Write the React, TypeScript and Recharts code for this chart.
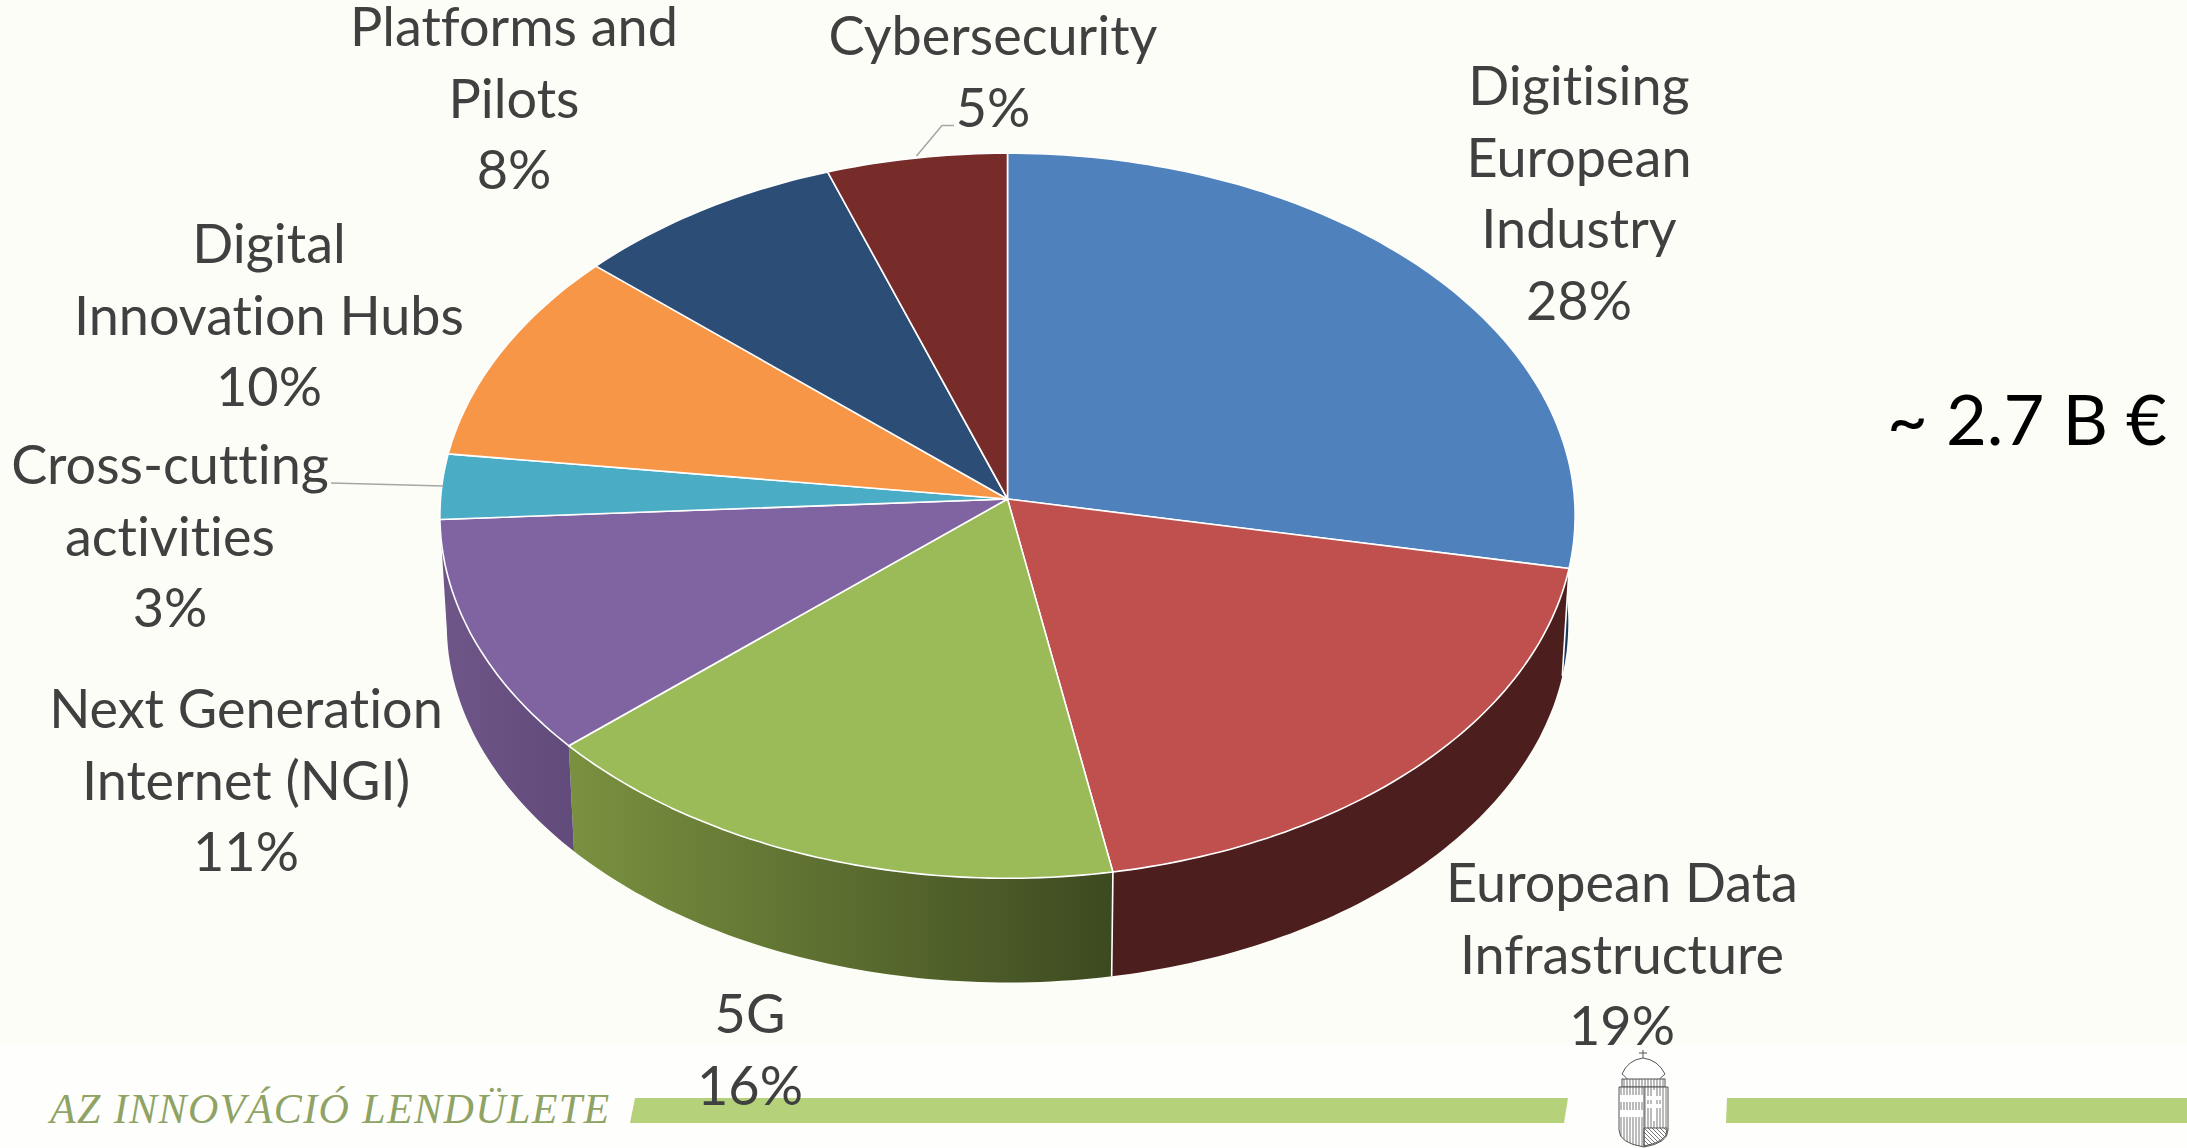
import { Pie, PieChart } from 'recharts'

const categories = [
  'Digitising European Industry',
  'European Data Infrastructure',
  '5G',
  'Next Generation Internet (NGI)',
  'Cross-cutting activities',
  'Digital Innovation Hubs',
  'Platforms and Pilots',
  'Cybersecurity',
]
// the printed labels are these rounded
const shares = [28.05, 19.11, 16.34, 10.6, 2.9, 9.55, 8.08, 5.37]
const faceColors = ['#4F81BD', '#C0504D', '#9BBB59', '#8064A2', '#4BACC6', '#F79646', '#2C4D75', '#772C2A']
const wallFrom = ['#17375E', '#4D1E1E', '#7A9140', '#6F5689', null, null, null, null]
const wallTo = ['#17375E', '#4D1E1E', '#3D4A20', '#614B7A', null, null, null, null]

const labelLines = [
  ['Digitising', 'European', 'Industry'],
  ['European Data', 'Infrastructure'],
  ['5G'],
  ['Next Generation', 'Internet (NGI)'],
  ['Cross-cutting', 'activities'],
  ['Digital', 'Innovation Hubs'],
  ['Platforms and', 'Pilots'],
  ['Cybersecurity'],
]
// centre x and first baseline of each label block
const labelSpots = [
  [1579, 105],
  [1622, 902],
  [750, 1033],
  [246, 728],
  [170, 484],
  [269, 263],
  [514, 46],
  [993, 55],
]

const tableData = categories.map((name, i) => ({ name, value: shares[i], fill: faceColors[i] }))

const WIDTH = 2187
const HEIGHT = 1148
const CX = 1007.5
const CY = 499
const RADIUS = 567
const TILT = 0.638
const PERSPECTIVE = 0.0462
const DEPTH = 108
const LINE_GAP = 71.5

const topPoint = (r: number, compass: number) => {
  const a = (compass * Math.PI) / 180
  const w = 1 + PERSPECTIVE * Math.cos(a)
  return [CX + (r * Math.sin(a)) / w, CY - (r * TILT * Math.cos(a)) / w]
}

const lowPoint = (r: number, compass: number) => {
  const [x, y] = topPoint(r, compass)
  return [CX + (x - CX) * 0.988, CY + (y - CY) * 0.99 + DEPTH]
}

const arcPoints = (fn: typeof topPoint, r: number, from: number, to: number) => {
  const pts: number[][] = []
  for (let c = from; c < to; c += 1) pts.push(fn(r, c))
  pts.push(fn(r, to))
  return pts
}

const toPath = (pts: number[][]) => 'M' + pts.map((p) => `${p[0].toFixed(1)},${p[1].toFixed(1)}`).join('L') + 'Z'

const FaceShape = (props: any) => {
  const from = 90 - props.startAngle
  const to = 90 - props.endAngle
  const pts = [[CX, CY], ...arcPoints(topPoint, props.outerRadius, from, to)]
  return <path d={toPath(pts)} fill={props.fill} stroke="#fff" strokeWidth={1.6} strokeLinejoin="round" />
}

const WallShape = (props: any) => {
  const i = categories.indexOf(props.name ?? props.payload?.name)
  if (i < 0 || !wallFrom[i]) return <g />
  const from = 90 - props.startAngle
  const to = 90 - props.endAngle
  const upper = arcPoints(topPoint, props.outerRadius, from, to)
  const lower = arcPoints(lowPoint, props.outerRadius, from, to).reverse()
  const id = `wall-${i}`
  return (
    <g>
      <defs>
        <linearGradient id={id} x1="0" y1="0" x2="1" y2="0">
          <stop offset="0%" stopColor={wallFrom[i] as string} />
          <stop offset="100%" stopColor={wallTo[i] as string} />
        </linearGradient>
      </defs>
      <path d={toPath([...upper, ...lower])} fill={`url(#${id})`} />
      {i > 0 && i < 3 && (
        <line
          x1={upper[0][0]}
          y1={upper[0][1]}
          x2={lower[lower.length - 1][0]}
          y2={lower[lower.length - 1][1]}
          stroke="#fff"
          strokeWidth={1.6}
        />
      )}
    </g>
  )
}

const renderLabel = (props: any) => {
  const i = props.index
  const [x, y] = labelSpots[i]
  const rows = [...labelLines[i], `${Math.round(shares[i])}%`]
  return (
    <text
      key={categories[i]}
      x={x}
      textAnchor="middle"
      fontFamily="Lato"
      fontSize={54}
      fill="#404040"
      style={{ fontVariantLigatures: 'none' }}
    >
      {rows.map((row, k) => (
        <tspan key={row} x={x} y={y + k * LINE_GAP}>
          {row}
        </tspan>
      ))}
    </text>
  )
}

const Footer = () => (
  <svg width={WIDTH} height={HEIGHT} style={{ position: 'absolute', left: 0, top: 0 }}>
    <rect x={0} y={0} width={WIDTH} height={HEIGHT} fill="#FCFDF7" />
    <rect x={0} y={1045} width={WIDTH} height={103} fill="#FEFEFC" />
    <polygon points="635,1098 1568,1098 1564,1123 630,1123" fill="#B5D27B" />
    <polygon points="1727,1098 2187,1098 2187,1123 1726,1123" fill="#B5D27B" />
    <text
      x={50}
      y={1123}
      fontFamily="Liberation Serif"
      fontStyle="italic"
      fontSize={42}
      letterSpacing={1.4}
      fill="#8FA365"
    >
      AZ INNOVÁCIÓ LENDÜLETE
    </text>
    <Arms />
  </svg>
)

const Arms = () => (
  <g stroke="#555" strokeWidth={1} fill="#fff">
    <defs>
      <pattern id="vhatch" width="3" height="3" patternUnits="userSpaceOnUse">
        <rect width="3" height="3" fill="#fff" stroke="none" />
        <line x1="1" y1="0" x2="1" y2="3" stroke="#777" />
      </pattern>
      <pattern id="dhatch" width="4" height="4" patternUnits="userSpaceOnUse">
        <rect width="4" height="4" fill="#fff" stroke="none" />
        <line x1="0" y1="0" x2="4" y2="4" stroke="#777" />
      </pattern>
    </defs>
    <path d="M1634,1086 Q1625,1076 1622,1074 Q1628,1060 1643,1058 Q1658,1060 1665,1074 Q1660,1078 1653,1086 Z" />
    <line x1="1643" y1="1050" x2="1643" y2="1058" />
    <line x1="1639" y1="1053" x2="1647" y2="1053" />
    <rect x="1622" y="1079" width="43" height="8" fill="url(#vhatch)" />
    <path d="M1619,1087 H1668 V1130 Q1668,1143 1644,1147 Q1619,1143 1619,1130 Z" fill="url(#vhatch)" />
    <rect x="1620" y="1095" width="23" height="7" stroke="none" />
    <rect x="1620" y="1110" width="23" height="7" stroke="none" />
    <path d="M1644,1128 H1667 V1130 Q1667,1142 1644,1146 Z" fill="url(#dhatch)" />
    <line x1="1644" y1="1087" x2="1644" y2="1147" />
    <path d="M1652,1090 h4 v6 h5 v4 h-5 v4 h6 v4 h-6 v13 h-4 v-13 h-6 v-4 h6 v-4 h-5 v-4 h5 Z" stroke="none" />
  </g>
)

export default function App() {
  return (
    <div style={{ position: 'absolute', left: 0, top: 0, width: WIDTH, height: HEIGHT, overflow: 'hidden' }}>
      <Footer />
      <div style={{ position: 'absolute', left: 0, top: 0 }}>
        <PieChart width={WIDTH} height={HEIGHT} margin={{ top: 0, right: 0, bottom: 0, left: 0 }}>
          <Pie
            data={tableData}
            dataKey="value"
            nameKey="name"
            cx={CX}
            cy={CY}
            outerRadius={RADIUS}
            startAngle={90}
            endAngle={-270}
            stroke="none"
            isAnimationActive={false}
            shape={WallShape}
            inactiveShape={WallShape}
          />
          <Pie
            data={tableData}
            dataKey="value"
            nameKey="name"
            cx={CX}
            cy={CY}
            outerRadius={RADIUS}
            startAngle={90}
            endAngle={-270}
            isAnimationActive={false}
            shape={FaceShape}
            inactiveShape={FaceShape}
            label={renderLabel}
            labelLine={false}
          />
        </PieChart>
      </div>
      <svg width={WIDTH} height={HEIGHT} style={{ position: 'absolute', left: 0, top: 0, pointerEvents: 'none' }}>
        <polyline points="916.5,156 942,125.5 954,125.5" fill="none" stroke="#A6A6A6" strokeWidth={1.5} />
        <line x1={331} y1={483} x2={443.5} y2={486} stroke="#A6A6A6" strokeWidth={1.5} />
        <text x={1887} y={445} fontFamily="Lato" fontSize={70.5} fill="#000">
          ~ 2.7 B €
        </text>
      </svg>
    </div>
  )
}
